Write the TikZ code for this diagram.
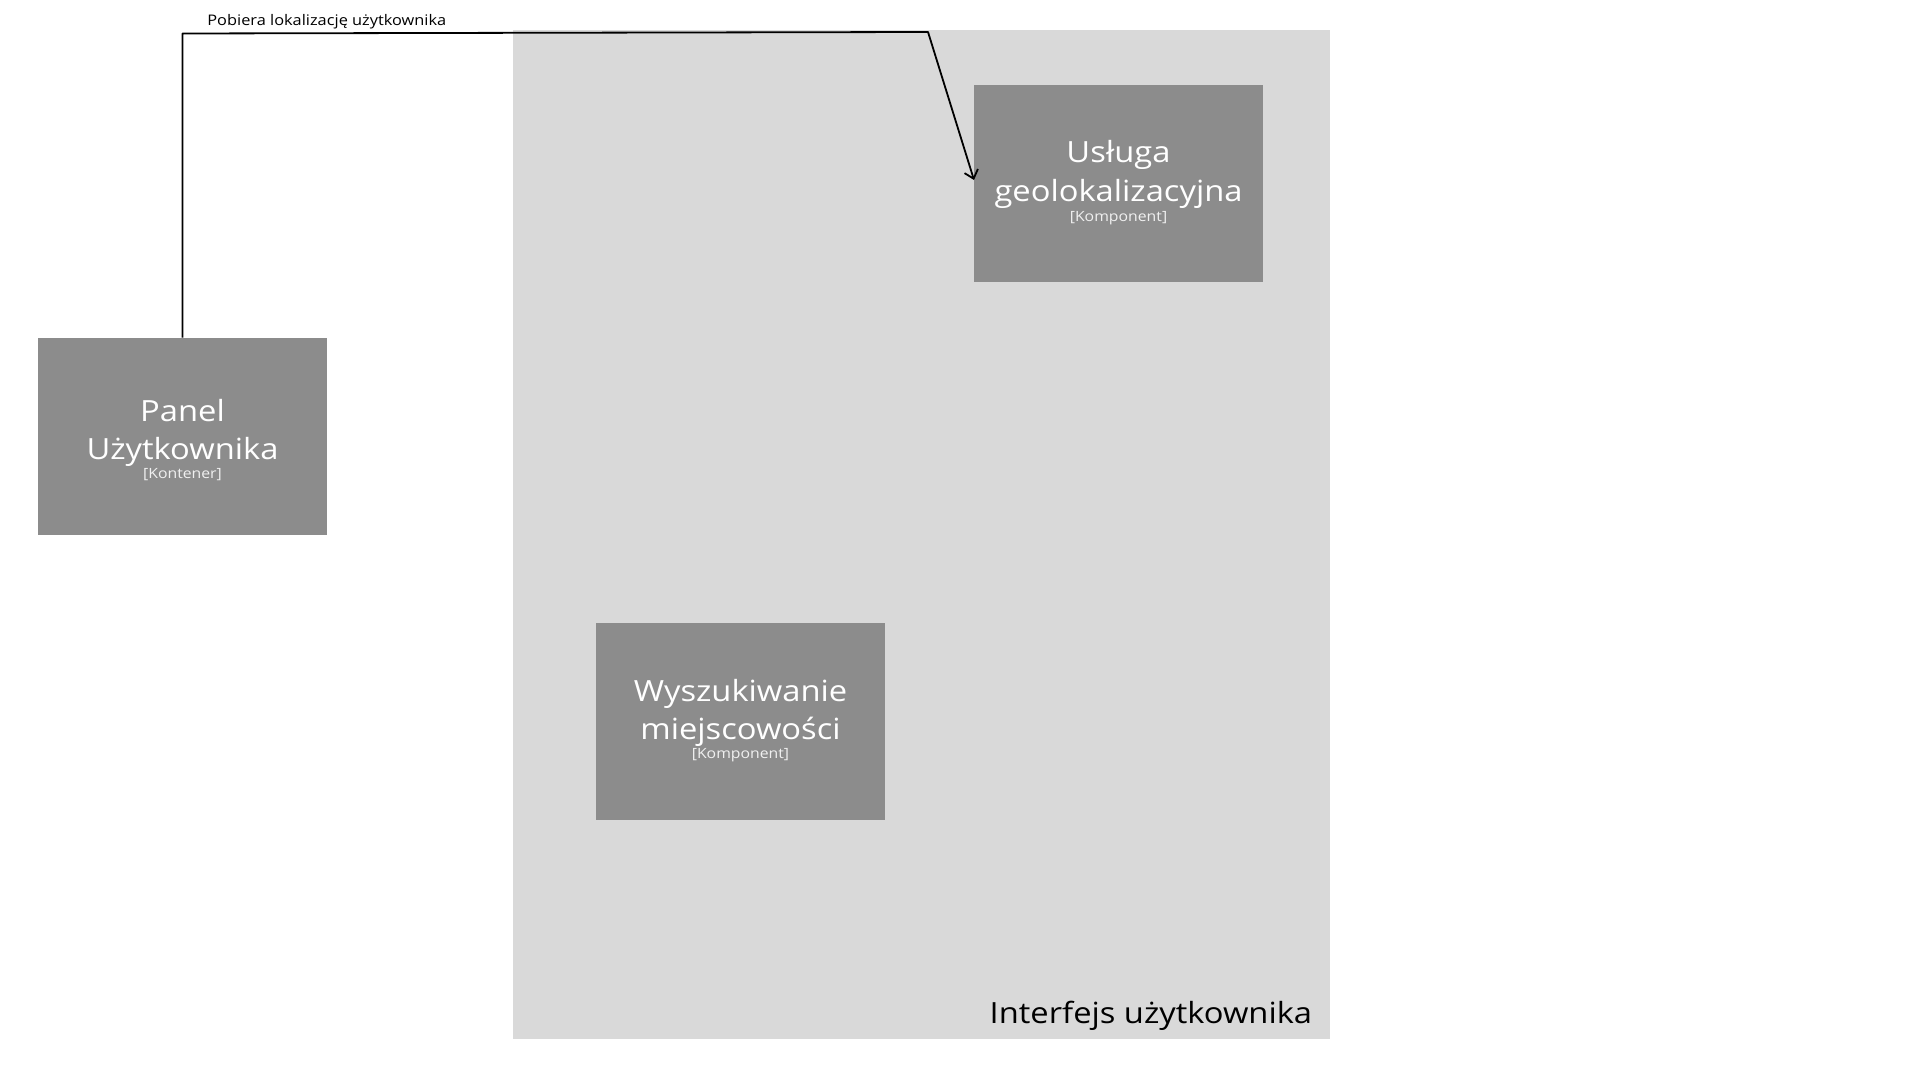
\documentclass[tikz,border=0pt]{standalone}
\usepackage{fontspec}
\setmainfont{Open Sans}[FakeStretch=1.12]
\usetikzlibrary{arrows.meta,calc,positioning}
\definecolor{contfill}{HTML}{D9D9D9}
\definecolor{boxfill}{HTML}{8C8C8C}
\definecolor{subtext}{HTML}{F0F0F0}
\tikzset{
  container/.style={fill=contfill, draw=none, minimum width=408.5pt, minimum height=504.5pt, inner sep=0pt},
  compbox/.style={fill=boxfill, draw=none, minimum width=144.5pt, minimum height=98.5pt, inner sep=0pt},
  titletext/.style={text=white, font=\fontsize{14.6pt}{19.5pt}\selectfont, anchor=base, inner sep=0pt},
  subtitletext/.style={text=subtext, font=\fontsize{7.05pt}{9pt}\selectfont, anchor=base, inner sep=0pt},
  conttext/.style={text=black, font=\fontsize{14.6pt}{18pt}\selectfont, anchor=base east, inner sep=0pt},
  conn/.style={draw=black, line width=0.9pt, line join=round, -{Straight Barb[length=4pt,width=7pt,line width=0.9pt]}},
  connlabel/.style={text=black, font=\fontsize{7.3pt}{9pt}\selectfont, anchor=base west, inner sep=0pt}
}
\begin{document}
\begin{tikzpicture}[x=0.5pt,y=-0.5pt]
  \fill[white] (0,0) rectangle (1920,1080);
  \useasboundingbox (0,0) rectangle (1920,1080);

  % container
  \node[container] (ui) at (921.5,534.5) {};
  \node[conttext] (uilabel) at (1312.5,1023) {Interfejs użytkownika};

  % components
  \node[compbox] (pan) at (182.5,436.5) {};
  \node[titletext] (pant1) at ($(pan.north)+(0,83.5)$) {Panel};
  \node[titletext] (pant2) at ($(pan.north)+(0,122)$) {Użytkownika};
  \node[subtitletext] (pans) at ($(pan.north)+(0,141)$) {[Kontener]};

  \node[compbox] (geo) at (1118.5,183.5) {};
  \node[titletext] (geot1) at ($(geo.north)+(0,78)$) {Usługa};
  \node[titletext] (geot2) at ($(geo.north)+(0,117)$) {geolokalizacyjna};
  \node[subtitletext] (geos) at ($(geo.north)+(0,136.5)$) {[Komponent]};

  \node[compbox] (wys) at (740.5,721.5) {};
  \node[titletext] (wyst1) at ($(wys.north)+(0,78.5)$) {Wyszukiwanie};
  \node[titletext] (wyst2) at ($(wys.north)+(0,117)$) {miejscowości};
  \node[subtitletext] (wyss) at ($(wys.north)+(0,136)$) {[Komponent]};

  % connector
  \coordinate (c1) at (182.5,33.5);
  \coordinate (c2) at (928,32);
  \coordinate (tip) at (974,180);
  \draw[conn] (pan.north) -- (c1) -- (c2) -- (tip);
  \node[connlabel] (lbl) at (207,26) {Pobiera lokalizację użytkownika};
\end{tikzpicture}
\end{document}
